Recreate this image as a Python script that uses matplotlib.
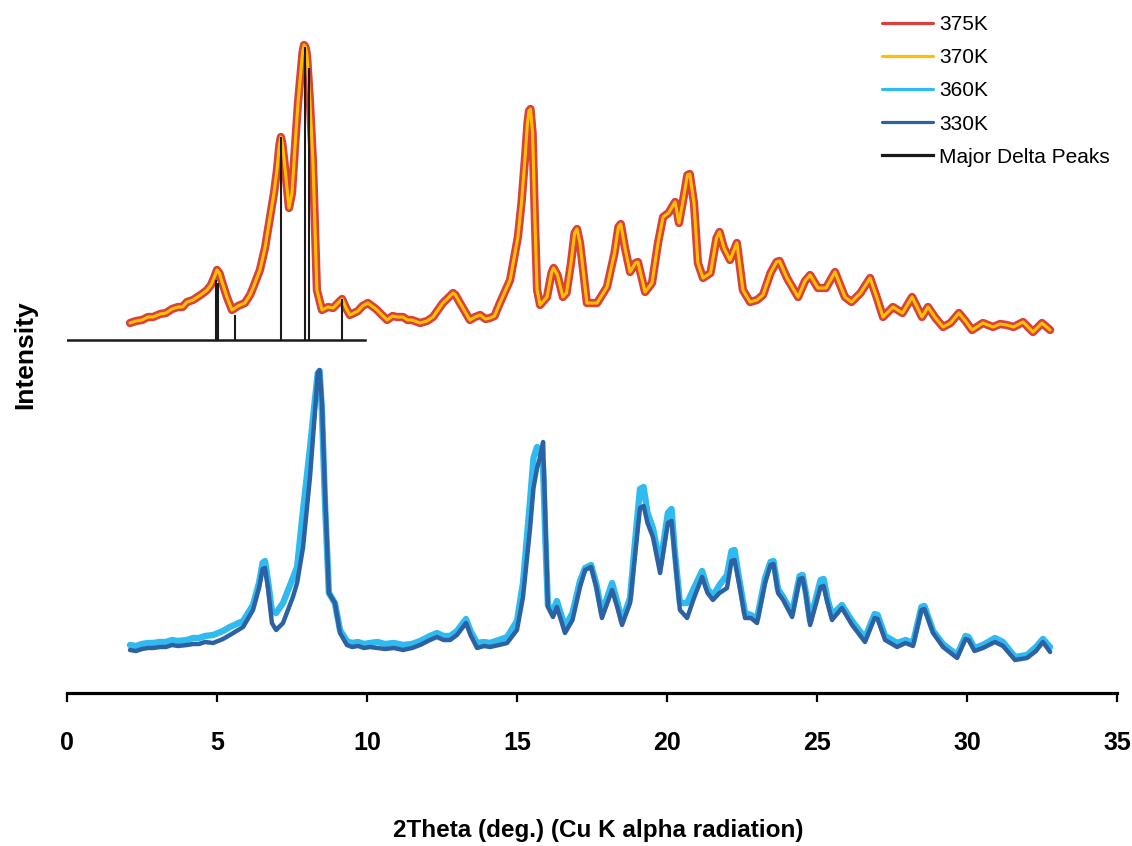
import matplotlib
matplotlib.use("Agg")
import matplotlib.pyplot as plt

# ---- powder diffraction scans (2theta in degrees, intensity in stacked arbitrary units) ----
top_2theta = [2.10, 2.30, 2.50, 2.70, 2.87, 3.10, 3.30, 3.50, 3.70, 3.85, 4.00, 4.20, 4.35, 4.50,
              4.67, 4.80, 4.90, 5.00, 5.08, 5.18, 5.33, 5.50, 5.70, 5.93, 6.10, 6.20, 6.43, 6.60,
              6.77, 6.90, 7.00, 7.08, 7.13, 7.18, 7.25, 7.40, 7.50, 7.60, 7.70, 7.77, 7.85, 7.90,
              7.95, 8.00, 8.10, 8.20, 8.33, 8.50, 8.70, 8.87, 9.00, 9.17, 9.30, 9.43, 9.70, 9.85,
              10.03, 10.30, 10.50, 10.67, 10.85, 11.00, 11.20, 11.35, 11.50, 11.77, 12.00, 12.20,
              12.53, 12.80, 12.87, 12.95, 13.10, 13.43, 13.60, 13.77, 13.95, 14.10, 14.25, 14.43,
              14.77, 15.03, 15.15, 15.27, 15.35, 15.40, 15.45, 15.52, 15.60, 15.67, 15.77, 16.00,
              16.15, 16.22, 16.35, 16.53, 16.65, 16.80, 16.92, 17.00, 17.10, 17.33, 17.50, 17.67,
              18.00, 18.25, 18.38, 18.46, 18.60, 18.77, 18.95, 19.03, 19.27, 19.50, 19.70, 19.87,
              20.05, 20.27, 20.40, 20.55, 20.68, 20.76, 20.90, 21.03, 21.20, 21.45, 21.65, 21.75,
              21.90, 22.10, 22.33, 22.53, 22.77, 23.00, 23.20, 23.45, 23.65, 23.75, 24.00, 24.37,
              24.60, 24.77, 25.03, 25.30, 25.60, 25.93, 26.15, 26.45, 26.77, 27.00, 27.20, 27.53,
              27.85, 28.17, 28.50, 28.70, 28.95, 29.20, 29.45, 29.73, 29.95, 30.17, 30.53, 30.87,
              31.10, 31.33, 31.55, 31.87, 32.20, 32.50, 32.77]

int_375K = [370, 372, 373, 376, 376, 379, 380, 384, 386, 386, 391, 393, 396, 399,
            403, 408, 415, 423, 420, 410, 396, 383, 387, 390, 398, 405, 423, 445,
            476, 500, 523, 548, 556, 549, 530, 485, 500, 546, 590, 613, 640, 648,
            646, 638, 590, 530, 403, 383, 386, 385, 389, 394, 385, 378, 382, 387,
            390, 384, 378, 373, 377, 376, 376, 373, 373, 370, 372, 376,
            390, 398, 400, 398, 390, 373, 376, 378, 374, 375, 377, 390,
            413, 456, 490, 536, 570, 582, 584, 560, 470, 403, 388, 396,
            420, 425, 418, 396, 400, 430, 460, 464, 450, 390, 390, 390,
            406, 440, 466, 469, 445, 421, 430, 431, 401, 410, 450, 476,
            480, 491, 470, 495, 518, 519, 490, 430, 415, 420, 455, 461,
            445, 433, 450, 403, 391, 393, 398, 420, 431, 432, 415, 396,
            412, 418, 405, 405, 421, 396, 391, 400, 415, 395, 376, 386,
            380, 396, 376, 386, 375, 366, 370, 380, 372, 363, 370, 366,
            369, 368, 366, 371, 361, 370, 363]

# the 370K scan lies on top of the 375K scan over the whole range
int_370K = list(int_375K)

bottom_2theta = [2.10, 2.30, 2.50, 2.70, 2.87, 3.10, 3.30, 3.50, 3.70, 4.00, 4.20, 4.40, 4.60, 4.87,
                 5.20, 5.43, 5.87, 6.20, 6.40, 6.52, 6.60, 6.70, 6.83, 6.97, 7.20, 7.53, 7.67, 7.87,
                 8.10, 8.27, 8.36, 8.42, 8.50, 8.60, 8.73, 8.93, 9.10, 9.33, 9.50, 9.70, 9.90, 10.10,
                 10.35, 10.60, 10.90, 11.20, 11.50, 11.77, 12.10, 12.33, 12.55, 12.77, 13.00, 13.20,
                 13.30, 13.45, 13.67, 13.90, 14.10, 14.40, 14.67, 15.00, 15.20, 15.43, 15.55, 15.67,
                 15.77, 15.87, 15.95, 16.03, 16.20, 16.33, 16.60, 16.85, 17.10, 17.27, 17.47, 17.65,
                 17.83, 18.17, 18.35, 18.50, 18.77, 18.93, 19.10, 19.22, 19.35, 19.53, 19.77, 20.03,
                 20.15, 20.25, 20.43, 20.67, 20.90, 21.17, 21.35, 21.53, 21.75, 22.00, 22.15, 22.25,
                 22.40, 22.60, 22.80, 23.00, 23.27, 23.45, 23.55, 23.70, 23.87, 24.17, 24.42, 24.52,
                 24.62, 24.77, 25.12, 25.22, 25.35, 25.50, 25.83, 26.17, 26.60, 26.92, 27.02, 27.27,
                 27.67, 27.95, 28.20, 28.48, 28.58, 28.87, 29.20, 29.67, 29.95, 30.05, 30.25, 30.53,
                 30.93, 31.20, 31.60, 32.00, 32.30, 32.53, 32.77]

int_360K = [48, 47, 49, 50, 50, 51, 51, 53, 52, 53, 55, 55, 57, 58,
            62, 66, 72, 88, 110, 130, 132, 112, 82, 80, 90, 115, 126, 183,
            245, 295, 320, 322, 280, 190, 100, 90, 63, 52, 50, 51, 49, 50,
            51, 49, 50, 48, 49, 52, 57, 60, 57, 57, 62, 70,
            74, 62, 50, 51, 50, 53, 56, 72, 110, 190, 235, 246,
            242, 225, 150, 88, 82, 92, 66, 80, 112, 125, 128, 108,
            80, 110, 90, 72, 95, 150, 204, 206, 180, 165, 128, 180,
            184, 145, 90, 90, 105, 122, 104, 97, 108, 118, 142, 143,
            115, 80, 78, 74, 115, 131, 132, 104, 96, 80, 117, 118,
            102, 72, 113, 114, 94, 78, 88, 72, 55, 79, 78, 57,
            50, 53, 50, 86, 87, 62, 49, 38, 57, 56, 45, 48,
            55, 51, 36, 38, 46, 54, 46]

int_330K = [43, 42, 44, 45, 45, 46, 46, 48, 47, 48, 49, 49, 51, 50,
            54, 58, 66, 83, 105, 124, 125, 105, 70, 63, 70, 96, 110, 146,
            216, 283, 320, 323, 290, 200, 100, 90, 60, 48, 46, 47, 45, 46,
            45, 44, 45, 43, 45, 48, 53, 56, 53, 53, 58, 66,
            70, 58, 45, 47, 46, 48, 50, 63, 96, 163, 205, 225,
            236, 251, 170, 86, 76, 86, 60, 73, 106, 123, 126, 105,
            75, 103, 85, 68, 90, 136, 185, 187, 170, 156, 120, 170,
            172, 140, 83, 75, 95, 116, 100, 93, 100, 105, 132, 133,
            110, 75, 75, 70, 110, 128, 129, 100, 93, 76, 114, 115,
            100, 68, 106, 107, 90, 73, 85, 68, 51, 75, 74, 53,
            46, 50, 47, 83, 84, 60, 46, 35, 54, 53, 42, 45,
            51, 47, 33, 35, 42, 51, 41]

# reference stick pattern of the delta phase
delta_baseline = 353
delta_range = [0.0, 9.93]
delta_pos = [4.97, 5.04, 5.60, 7.13, 7.93, 8.07, 9.17]
delta_top = [413, 410, 378, 556, 646, 625, 394]

x_ticks = [0, 5, 10, 15, 20, 25, 30, 35]
legend_labels = ["375K", "370K", "360K", "330K", "Major Delta Peaks"]

# ---- figure ----
W, H = 1132, 846
fig = plt.figure(figsize=(W / 100, H / 100), dpi=100)
ax = fig.add_axes([67 / W, (H - 693) / H, 1050 / W, 673 / H])

font = "Liberation Sans"
c_red = "#d8423a"
c_yellow = "#ffc000"
c_light = "#2fbaf0"
c_dark = "#2c62a3"
c_black = "#1a1a1a"

style = dict(solid_joinstyle="round", solid_capstyle="round")
l375, = ax.plot(top_2theta, int_375K, color=c_red, lw=6.0, zorder=2, label=legend_labels[0], **style)
l370, = ax.plot(top_2theta, int_370K, color=c_yellow, lw=2.2, zorder=3, label=legend_labels[1], **style)
l360, = ax.plot(bottom_2theta, int_360K, color=c_light, lw=4.6, zorder=2, label=legend_labels[2], **style)
l330, = ax.plot(bottom_2theta, int_330K, color=c_dark, lw=3.2, zorder=3, label=legend_labels[3], **style)

ld, = ax.plot(delta_range, [delta_baseline, delta_baseline], color=c_black, lw=1.8,
              zorder=4, label=legend_labels[4])
ax.vlines(delta_pos, delta_baseline, delta_top, colors=c_black, lw=1.5, zorder=4)

ax.set_xlim(0, 35)
ax.set_ylim(0, 673)
ax.set_xticks(x_ticks)
ax.set_xticklabels([str(t) for t in x_ticks])
ax.set_yticks([])

for side in ("top", "right", "left"):
    ax.spines[side].set_visible(False)
ax.spines["bottom"].set_linewidth(2.3)
ax.spines["bottom"].set_color("black")
ax.tick_params(axis="x", direction="out", length=6.5, width=1.6, color="black", pad=21)
for lab in ax.get_xticklabels():
    lab.set_fontfamily(font)
    lab.set_fontweight("bold")
    lab.set_fontsize(18)

fig.text(25 / W, 1 - 355 / H, "Intensity", rotation=90, ha="center", va="center",
         family=font, fontweight="bold", fontsize=19)
fig.text(598 / W, 1 - 830 / H, "2Theta (deg.) (Cu K alpha radiation)", ha="center", va="center",
         family=font, fontweight="bold", fontsize=17.5)

leg = ax.legend(handles=[l375, l370, l360, l330, ld], loc="upper left",
                bbox_to_anchor=(882 / W, 1 - 15 / H), bbox_transform=fig.transFigure,
                frameon=False, borderpad=0, borderaxespad=0, handlelength=2.45,
                handletextpad=0.3, labelspacing=0.68,
                prop={"family": font, "size": 15})
for h in leg.get_lines():
    h.set_linewidth(2.3)

fig.savefig("out.png", dpi=100)
